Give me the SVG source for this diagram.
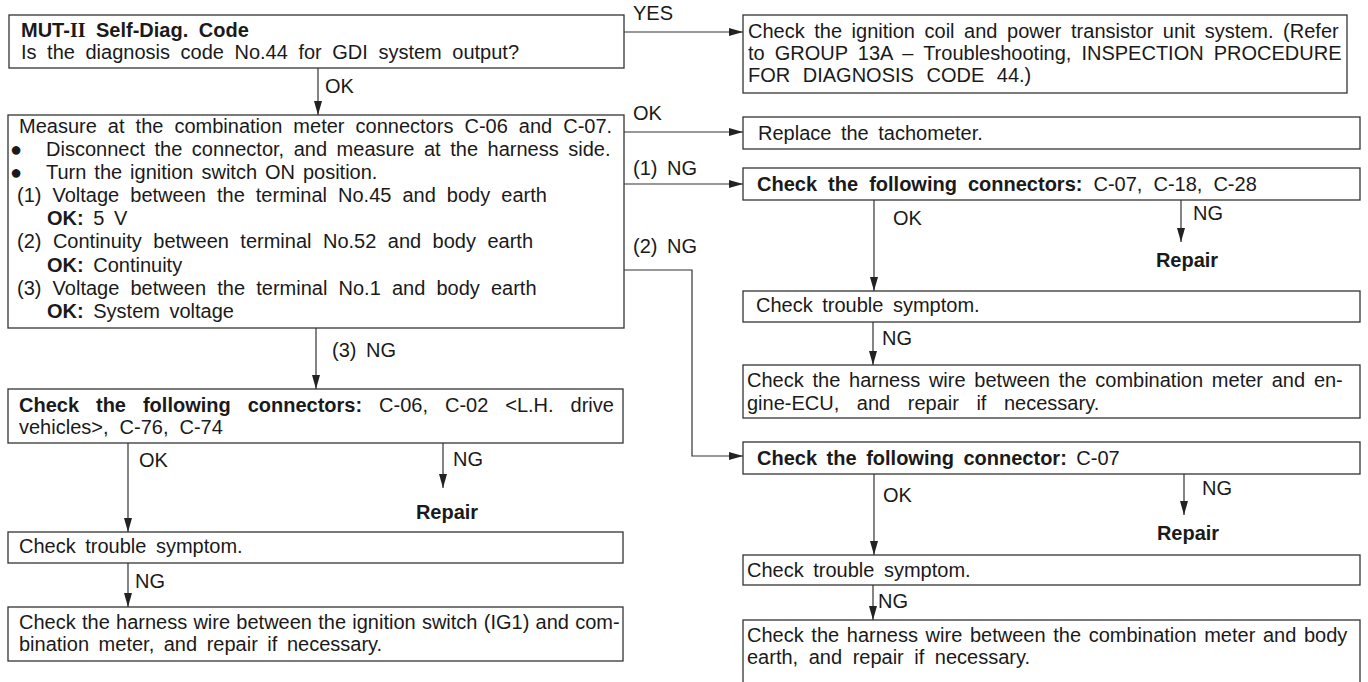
<svg xmlns="http://www.w3.org/2000/svg" width="1368" height="682" viewBox="0 0 1368 682">
<style>
text{font-family:"Liberation Sans",Arial,sans-serif;font-size:20px;fill:#1a1a1a;word-spacing:4px}
.b{font-weight:bold}
.box{fill:#fff;stroke:#333;stroke-width:1.3}
.c{fill:none;stroke:#333;stroke-width:1.2}
.rn{font-family:"Liberation Serif","Times New Roman",serif;font-weight:bold}
.bul{font-size:20px}
</style>
<defs>
<marker id="ah" markerUnits="userSpaceOnUse" markerWidth="14" markerHeight="8" refX="14" refY="4" orient="auto">
<path d="M0,0 L14,4 L0,8 z" fill="#222"/>
</marker>
</defs>
<rect width="1368" height="682" fill="#fff"/>

<g id="connectors">
<line class="c" x1="624" y1="32" x2="743" y2="32" marker-end="url(#ah)"/>
<text x="633" y="20">YES</text>
<line class="c" x1="318" y1="68" x2="318" y2="115" marker-end="url(#ah)"/>
<text x="325" y="93">OK</text>
<line class="c" x1="624" y1="132" x2="743" y2="132" marker-end="url(#ah)"/>
<text x="633" y="120">OK</text>
<line class="c" x1="624" y1="184" x2="743" y2="184" marker-end="url(#ah)"/>
<text x="633" y="175">(1)  NG</text>
<polyline class="c" points="624,270 692,270 692,456 743,456" marker-end="url(#ah)"/>
<text x="633" y="253">(2)  NG</text>
<line class="c" x1="316" y1="328" x2="316" y2="389" marker-end="url(#ah)"/>
<text x="332" y="357">(3)  NG</text>
<line class="c" x1="128" y1="443" x2="128" y2="532" marker-end="url(#ah)"/>
<text x="139" y="467">OK</text>
<line class="c" x1="443" y1="443" x2="443" y2="488" marker-end="url(#ah)"/>
<text x="453" y="466">NG</text>
<text class="b" x="447" y="519" text-anchor="middle">Repair</text>
<line class="c" x1="128" y1="563" x2="128" y2="607" marker-end="url(#ah)"/>
<text x="135" y="588">NG</text>
<line class="c" x1="874" y1="200" x2="874" y2="291" marker-end="url(#ah)"/>
<text x="893" y="225">OK</text>
<line class="c" x1="1181" y1="200" x2="1181" y2="242" marker-end="url(#ah)"/>
<text x="1193" y="220">NG</text>
<text class="b" x="1187" y="267" text-anchor="middle">Repair</text>
<line class="c" x1="873" y1="322" x2="873" y2="365" marker-end="url(#ah)"/>
<text x="882" y="345">NG</text>
<line class="c" x1="874" y1="474" x2="874" y2="555" marker-end="url(#ah)"/>
<text x="883" y="502">OK</text>
<line class="c" x1="1184" y1="474" x2="1184" y2="515" marker-end="url(#ah)"/>
<text x="1202" y="495">NG</text>
<text class="b" x="1188" y="540" text-anchor="middle">Repair</text>
<line class="c" x1="873" y1="585" x2="873" y2="620" marker-end="url(#ah)"/>
<text x="878" y="608">NG</text>
</g>

<g id="nodeA">
<rect class="box" x="9" y="15" width="615" height="53"/>
<text class="b" x="21" y="37" style="word-spacing:5px">MUT-<tspan class="rn">II</tspan> Self-Diag. Code</text>
<text x="21" y="59" style="word-spacing:5px">Is the diagnosis code No.44 for GDI system output?</text>
</g>

<g id="nodeB">
<rect class="box" x="743" y="15" width="604" height="78"/>
<text x="748" y="38">Check the ignition coil and power transistor unit system. (Refer</text>
<text x="748" y="60" style="word-spacing:4.5px">to GROUP 13A – Troubleshooting, INSPECTION PROCEDURE</text>
<text x="748" y="82" style="word-spacing:7px">FOR DIAGNOSIS CODE 44.)</text>
</g>

<g id="nodeC">
<rect class="box" x="8" y="115" width="616" height="213"/>
<text x="19" y="133" style="word-spacing:5.5px">Measure at the combination meter connectors C-06 and C-07.</text>
<text class="bul" x="10" y="156">●</text>
<text x="46" y="156">Disconnect the connector, and measure at the harness side.</text>
<text class="bul" x="10" y="179">●</text>
<text x="46" y="179" style="word-spacing:2.4px">Turn the ignition switch ON position.</text>
<text x="17" y="202" style="word-spacing:5.5px">(1) Voltage between the terminal No.45 and body earth</text>
<text x="47" y="225"><tspan class="b">OK:</tspan>  5 V</text>
<text x="17" y="248" style="word-spacing:5.9px">(2) Continuity between terminal No.52 and body earth</text>
<text x="47" y="272"><tspan class="b">OK:</tspan>  Continuity</text>
<text x="17" y="295" style="word-spacing:5.6px">(3) Voltage between the terminal No.1 and body earth</text>
<text x="47" y="318"><tspan class="b">OK:</tspan>  System voltage</text>
</g>

<g id="nodeD">
<rect class="box" x="743" y="117" width="617" height="32"/>
<text x="758" y="140">Replace the tachometer.</text>
</g>

<g id="nodeE">
<rect class="box" x="743" y="168" width="617" height="32"/>
<text x="757" y="191" style="word-spacing:5.5px"><tspan class="b">Check the following connectors:</tspan> C-07, C-18, C-28</text>
</g>

<g id="nodeF">
<rect class="box" x="743" y="291" width="617" height="31"/>
<text x="756" y="312">Check trouble symptom.</text>
</g>

<g id="nodeG">
<rect class="box" x="743" y="365" width="617" height="53"/>
<text x="747" y="387" style="word-spacing:3.2px">Check the harness wire between the combination meter and en-</text>
<text x="747" y="410" style="word-spacing:12px">gine-ECU, and repair if necessary.</text>
</g>

<g id="nodeH">
<rect class="box" x="743" y="442" width="617" height="32"/>
<text x="757" y="465"><tspan class="b">Check the following connector:</tspan> C-07</text>
</g>

<g id="nodeI">
<rect class="box" x="743" y="555" width="617" height="30"/>
<text x="747" y="577">Check trouble symptom.</text>
</g>

<g id="nodeJ">
<rect class="box" x="743" y="620" width="617" height="90"/>
<text x="747" y="642" style="word-spacing:2.1px">Check the harness wire between the combination meter and body</text>
<text x="747" y="664" style="word-spacing:5px">earth, and repair if necessary.</text>
</g>

<g id="nodeK">
<rect class="box" x="8" y="389" width="615" height="54"/>
<text x="19" y="412" style="word-spacing:11.4px"><tspan class="b">Check the following connectors:</tspan> C-06, C-02 &lt;L.H. drive</text>
<text x="19" y="434" style="word-spacing:5.5px">vehicles&gt;, C-76, C-74</text>
</g>

<g id="nodeL">
<rect class="box" x="8" y="532" width="615" height="31"/>
<text x="19" y="553">Check trouble symptom.</text>
</g>

<g id="nodeM">
<rect class="box" x="8" y="607" width="615" height="54"/>
<text x="19" y="629" style="word-spacing:0.7px">Check the harness wire between the ignition switch (IG1) and com-</text>
<text x="19" y="651">bination meter, and repair if necessary.</text>
</g>
</svg>
